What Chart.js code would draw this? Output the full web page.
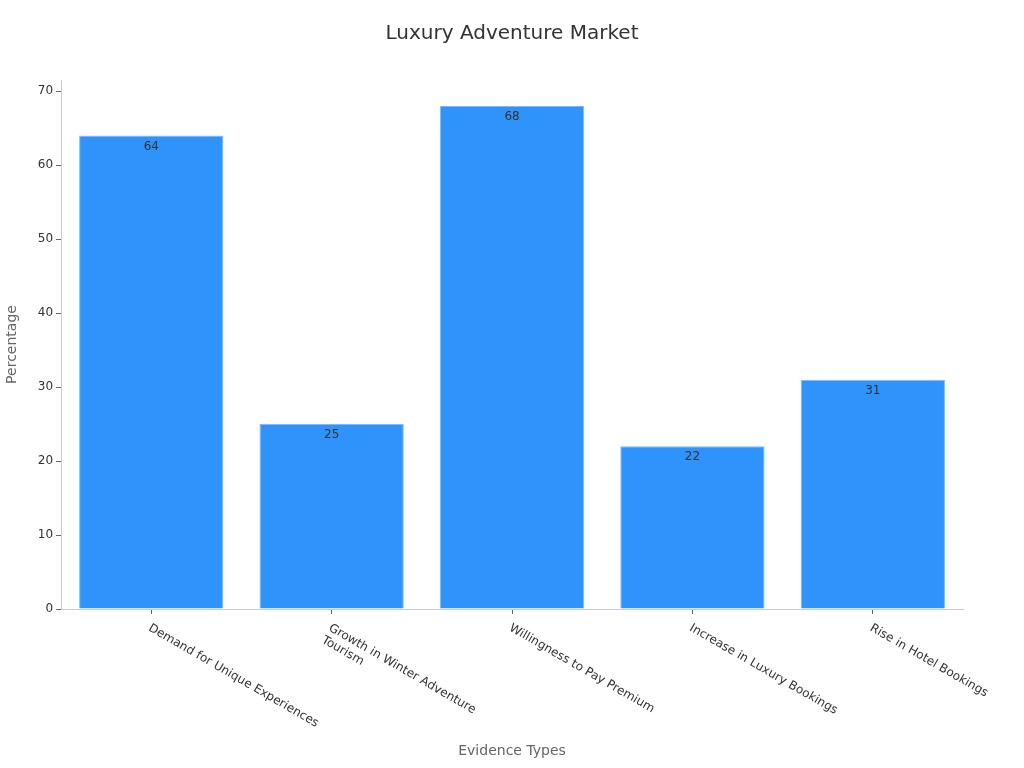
<!DOCTYPE html>
<html>
<head>
<meta charset="utf-8">
<script src="https://cdn.jsdelivr.net/npm/chart.js@4"></script>
<style>
    html, body { margin: 0; padding: 0; background: #ffffff; }
    #wrap { width: 1024px; height: 768px; }
</style>
</head>
<body>
<div id="wrap"><canvas id="chart"></canvas></div>
<script>
    const chartTitle = "Luxury Adventure Market";
    const categories = [
        ["Demand for Unique Experiences"],
        ["Growth in Winter Adventure", "Tourism"],
        ["Willingness to Pay Premium"],
        ["Increase in Luxury Bookings"],
        ["Rise in Hotel Bookings"]
    ];
    const percentages = [64, 25, 68, 22, 31];
    const yTicks = [0, 10, 20, 30, 40, 50, 60, 70];

    const FONT = "'DejaVu Sans', sans-serif";

    // title centred on the whole canvas, not on the padded layout box
    const pageTitle = {
        id: "pageTitle",
        afterDraw(chart) {
            const ctx = chart.ctx;
            ctx.save();
            ctx.font = "20px " + FONT;
            ctx.fillStyle = "#333333";
            ctx.textAlign = "center";
            ctx.textBaseline = "middle";
            ctx.fillText(chartTitle, chart.width / 2, 34);
            ctx.restore();
        }
    };

    // value written just inside the top of each bar
    const valueLabels = {
        id: "valueLabels",
        afterDatasetsDraw(chart) {
            const ctx = chart.ctx;
            const meta = chart.getDatasetMeta(0);
            ctx.save();
            ctx.font = "12px " + FONT;
            ctx.fillStyle = "#333333";
            ctx.textAlign = "center";
            ctx.textBaseline = "top";
            meta.data.forEach((bar, i) => {
                ctx.fillText(String(percentages[i]), bar.x, bar.y + 5);
            });
            ctx.restore();
        }
    };

    // category labels rotated clockwise, hanging from the tick
    const slantedLabels = {
        id: "slantedLabels",
        afterDraw(chart) {
            const ctx = chart.ctx;
            const xScale = chart.scales.x;
            ctx.save();
            ctx.font = "12px " + FONT;
            ctx.fillStyle = "#333333";
            ctx.textAlign = "left";
            ctx.textBaseline = "top";
            categories.forEach((lines, i) => {
                const x = xScale.getPixelForTick(i);
                ctx.save();
                ctx.translate(x + 1, xScale.top + 13);
                ctx.rotate(Math.PI / 6);
                lines.forEach((line, j) => {
                    ctx.fillText(line, 0, j * 14);
                });
                ctx.restore();
            });
            ctx.restore();
        }
    };

    new Chart(document.getElementById("chart"), {
        type: "bar",
        data: {
            labels: categories,
            datasets: [
                {
                    label: "Percentage",
                    data: percentages,
                    backgroundColor: "#2e93fa",
                    borderColor: "#7dbaf9",
                    borderWidth: 1,
                    barPercentage: 0.8,
                    categoryPercentage: 1.0
                }
            ]
        },
        options: {
            responsive: true,
            maintainAspectRatio: false,
            animation: false,
            layout: {
                padding: { left: 4, right: 61, top: 80, bottom: 4 }
            },
            plugins: {
                legend: { display: false },
                tooltip: { enabled: false },
                title: { display: false }
            },
            scales: {
                x: {
                    grid: {
                        display: true,
                        offset: false,
                        drawOnChartArea: false,
                        drawTicks: true,
                        tickLength: 5,
                        color: "#666666"
                    },
                    border: { display: true, color: "#cccccc" },
                    ticks: { display: false },
                    title: {
                        display: true,
                        text: "Evidence Types",
                        color: "#666666",
                        font: { family: FONT, size: 14 },
                        padding: { top: 4, bottom: 4 }
                    },
                    afterFit(scale) {
                        scale.height = 155;
                    }
                },
                y: {
                    min: 0,
                    max: 71.5,
                    grid: {
                        display: true,
                        drawOnChartArea: false,
                        drawTicks: true,
                        tickLength: 5,
                        color: "#666666"
                    },
                    border: { display: true, color: "#cccccc" },
                    afterBuildTicks(scale) {
                        scale.ticks = yTicks.map((v) => ({ value: v }));
                    },
                    ticks: {
                        color: "#333333",
                        font: { family: FONT, size: 12 },
                        padding: 3
                    },
                    title: {
                        display: true,
                        text: "Percentage",
                        color: "#666666",
                        font: { family: FONT, size: 14 },
                        padding: { top: 0, bottom: 14 }
                    }
                }
            }
        },
        plugins: [pageTitle, valueLabels, slantedLabels]
    });
</script>
</body>
</html>
